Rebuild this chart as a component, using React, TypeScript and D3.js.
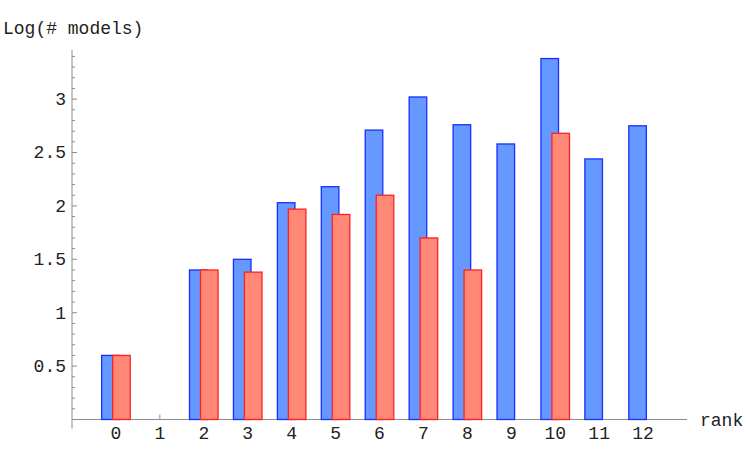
import * as d3 from "d3";
import { useEffect, useRef } from "react";

const ranks = [0, 1, 2, 3, 4, 5, 6, 7, 8, 9, 10, 11, 12];
const blueValues = [0.6, null, 1.4, 1.5, 2.03, 2.18, 2.71, 3.02, 2.76, 2.58, 3.38, 2.44, 2.75];
const redValues = [0.6, null, 1.4, 1.38, 1.97, 1.92, 2.1, 1.7, 1.4, null, 2.68, null, null];
const majorTicks = [0.5, 1, 1.5, 2, 2.5, 3];

const W = 747;
const H = 462;
const FONT = "'Courier New', 'Liberation Mono', monospace";

const App = () => {
  const ref = useRef<SVGSVGElement>(null);

  useEffect(() => {
    const svg = d3.select(ref.current);
    svg.selectAll("*").remove();

    const x = d3.scaleLinear().domain([-1, 13]).range([72, 687]);
    const y = d3.scaleLinear().domain([0, 3.46]).range([419.5, 50]);
    const y0 = y(0);

    // axes
    svg.append("line")
      .attr("x1", x(-1)).attr("x2", x(13))
      .attr("y1", y0).attr("y2", y0)
      .attr("stroke", "#8c8c8c").attr("stroke-width", 1);
    svg.append("line")
      .attr("x1", x(-1)).attr("x2", x(-1))
      .attr("y1", y(3.46)).attr("y2", y0 + 9)
      .attr("stroke", "#8c8c8c").attr("stroke-width", 1);

    // y ticks
    const minor = d3.range(1, 35).map((d) => d / 10);
    svg.selectAll(".ytick")
      .data(minor)
      .enter()
      .append("line")
      .attr("x1", x(-1))
      .attr("x2", (d) => x(-1) + (Math.abs(d * 2 - Math.round(d * 2)) < 1e-6 ? 5 : 3))
      .attr("y1", (d) => y(d))
      .attr("y2", (d) => y(d))
      .attr("stroke", "#8c8c8c");

    svg.selectAll(".ylab")
      .data(majorTicks)
      .enter()
      .append("text")
      .attr("x", x(-1) - 6)
      .attr("y", (d) => y(d))
      .attr("dy", "0.33em")
      .attr("text-anchor", "end")
      .attr("font-family", FONT)
      .attr("font-size", 18)
      .attr("fill", "#222")
      .text((d) => String(d));

    // x ticks
    svg.selectAll(".xtick")
      .data(ranks)
      .enter()
      .append("line")
      .attr("x1", (d) => x(d))
      .attr("x2", (d) => x(d))
      .attr("y1", y0)
      .attr("y2", y0 - 5)
      .attr("stroke", "#8c8c8c");

    svg.selectAll(".xlab")
      .data(ranks)
      .enter()
      .append("text")
      .attr("x", (d) => x(d))
      .attr("y", 439)
      .attr("text-anchor", "middle")
      .attr("font-family", FONT)
      .attr("font-size", 18)
      .attr("fill", "#222")
      .text((d) => String(d));

    // bars
    const bw = x(0.4) - x(0);
    svg.selectAll(".blue")
      .data(ranks.filter((r) => blueValues[r] != null))
      .enter()
      .append("rect")
      .attr("x", (d) => x(d - 0.325))
      .attr("y", (d) => y(blueValues[d] as number))
      .attr("width", bw)
      .attr("height", (d) => y0 - y(blueValues[d] as number))
      .attr("fill", "#6699ff")
      .attr("stroke", "#1a2eff")
      .attr("stroke-width", 1.3);

    svg.selectAll(".red")
      .data(ranks.filter((r) => redValues[r] != null))
      .enter()
      .append("rect")
      .attr("x", (d) => x(d - 0.075))
      .attr("y", (d) => y(redValues[d] as number))
      .attr("width", bw)
      .attr("height", (d) => y0 - y(redValues[d] as number))
      .attr("fill", "#ff8877")
      .attr("stroke", "#ff2020")
      .attr("stroke-width", 1.3);

    // titles
    svg.append("text")
      .attr("x", 3)
      .attr("y", 34)
      .attr("font-family", FONT)
      .attr("font-size", 18)
      .attr("fill", "#222")
      .text("Log(# models)");
    svg.append("text")
      .attr("x", 700)
      .attr("y", 426)
      .attr("font-family", FONT)
      .attr("font-size", 18)
      .attr("fill", "#222")
      .text("rank");
  }, []);

  return (
    <svg
      ref={ref}
      width={W}
      height={H}
      style={{ position: "absolute", left: 0, top: 0, background: "white" }}
    />
  );
};

export default App;
